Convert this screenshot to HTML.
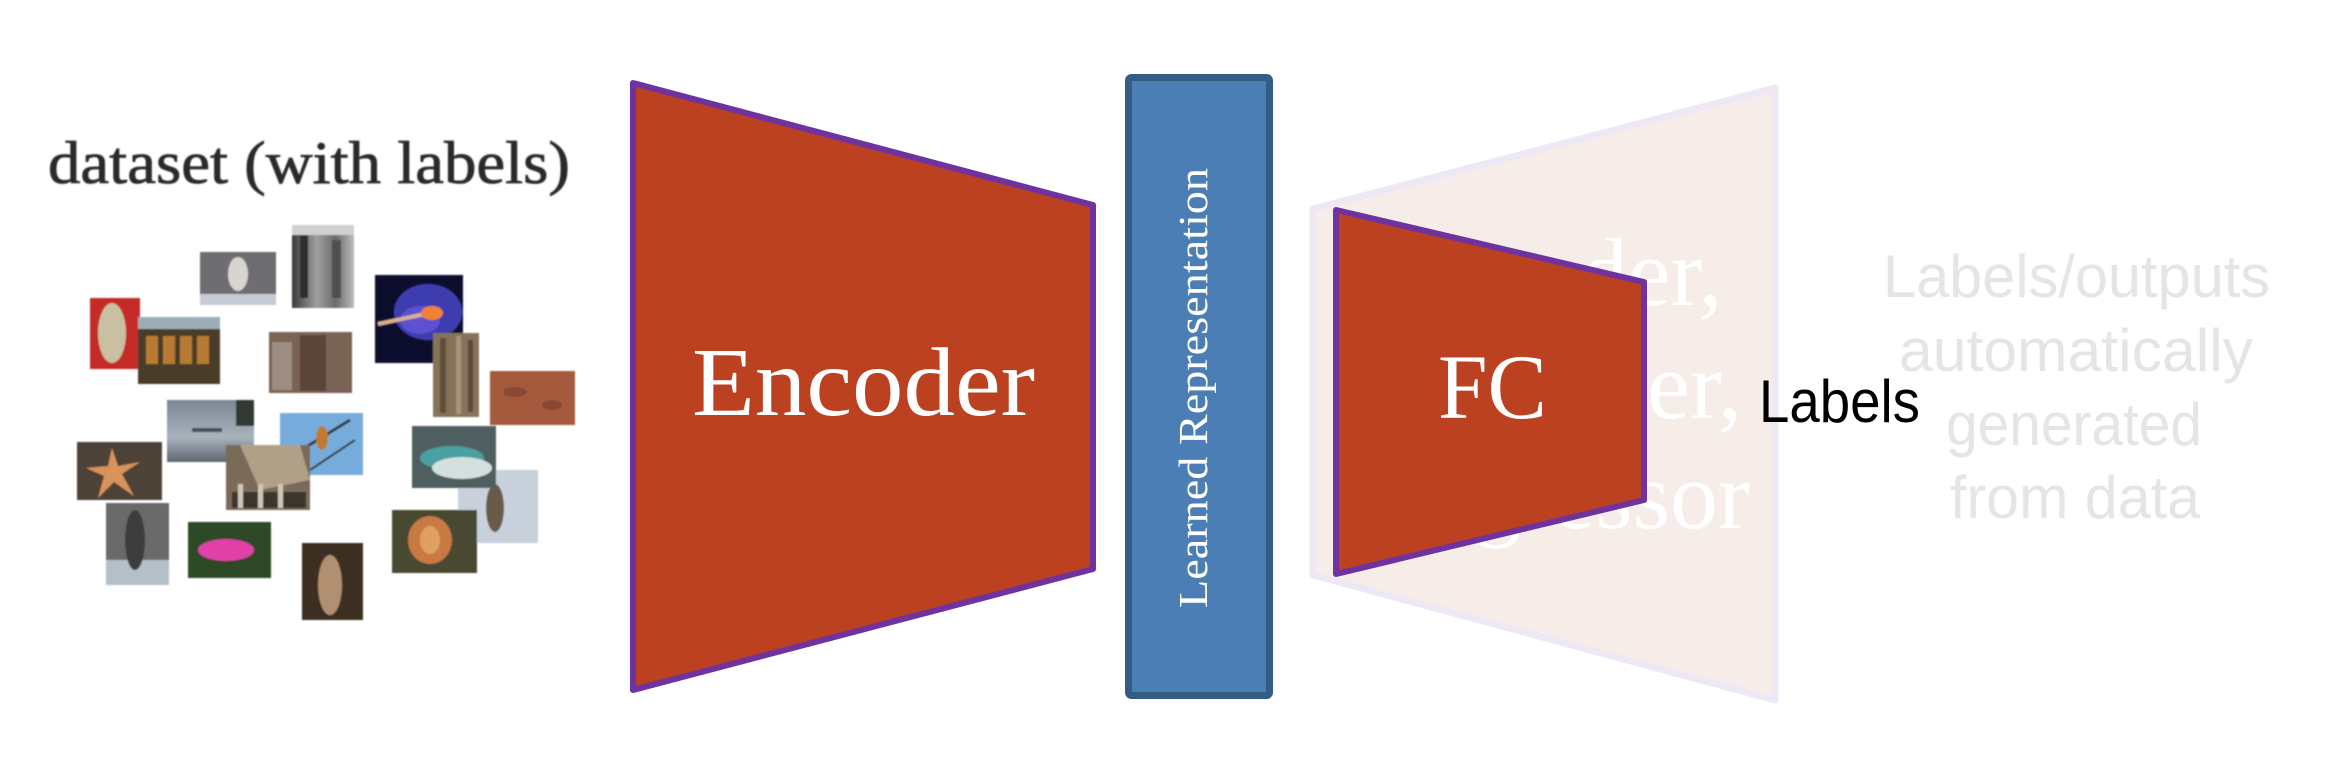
<!DOCTYPE html>
<html>
<head>
<meta charset="utf-8">
<style>
  html, body { margin:0; padding:0; background:#ffffff; }
  body { width:2336px; height:772px; overflow:hidden; }
  svg { display:block; }
</style>
</head>
<body>
<svg width="2336" height="772" viewBox="0 0 2336 772" xmlns="http://www.w3.org/2000/svg">
  <defs>
    <filter id="soft" x="-5%" y="-5%" width="110%" height="110%">
      <feGaussianBlur stdDeviation="0.9"/>
    </filter>
    <filter id="softtext" x="-2%" y="-10%" width="104%" height="120%">
      <feGaussianBlur stdDeviation="0.7"/>
    </filter>
    <linearGradient id="skyg" x1="0" y1="0" x2="0" y2="1">
      <stop offset="0" stop-color="#7a8692"/>
      <stop offset="0.6" stop-color="#a8b2bc"/>
      <stop offset="1" stop-color="#5e6670"/>
    </linearGradient>
    <linearGradient id="bwg" x1="0" y1="0" x2="1" y2="0">
      <stop offset="0" stop-color="#3a3a3a"/>
      <stop offset="0.4" stop-color="#a0a0a0"/>
      <stop offset="0.7" stop-color="#6a6a6a"/>
      <stop offset="1" stop-color="#bdbdbd"/>
    </linearGradient>
  </defs>

  <rect x="0" y="0" width="2336" height="772" fill="#ffffff"/>

  <!-- dataset title -->
  <text x="48" y="183" font-family="'Liberation Serif', serif" font-size="60" fill="#2a2a2a" stroke="#2a2a2a" stroke-width="0.8" textLength="522" lengthAdjust="spacingAndGlyphs" filter="url(#softtext)">dataset (with labels)</text>

  <!-- collage -->
  <g filter="url(#soft)">
    <rect x="200" y="252" width="76" height="53" fill="#6e6e72"/>
    <ellipse cx="238" cy="274" rx="10" ry="17" fill="#d8d4d0"/>
    <rect x="200" y="294" width="76" height="11" fill="#c6cad2"/>
    <rect x="292" y="225" width="62" height="83" fill="url(#bwg)"/>
    <rect x="300" y="232" width="8" height="66" fill="#2e2e2e"/>
    <rect x="332" y="240" width="9" height="58" fill="#505050"/>
    <rect x="292" y="225" width="62" height="10" fill="#d0d0d0"/>
    <rect x="375" y="275" width="88" height="88" fill="#0a0a2e"/>
    <ellipse cx="428" cy="312" rx="34" ry="28" fill="#4646c6" opacity="0.85"/>
    <ellipse cx="420" cy="320" rx="20" ry="14" fill="#6a5ae0" opacity="0.7"/>
    <line x1="378" y1="324" x2="425" y2="314" stroke="#d8b090" stroke-width="4"/>
    <ellipse cx="432" cy="313" rx="11" ry="7" fill="#f08030"/>
    <rect x="433" y="333" width="46" height="84" fill="#86735a"/>
    <rect x="440" y="338" width="6" height="75" fill="#5e4e3a"/>
    <rect x="456" y="336" width="5" height="78" fill="#a89478"/>
    <rect x="468" y="340" width="5" height="72" fill="#5a4a36"/>
    <rect x="90" y="298" width="50" height="71" fill="#c42a28"/>
    <ellipse cx="112" cy="333" rx="14" ry="30" fill="#c8c0a0"/>
    <rect x="138" y="317" width="82" height="67" fill="#4a3e2c"/>
    <rect x="138" y="317" width="82" height="12" fill="#9eaeb6"/>
    <rect x="146" y="336" width="12" height="28" fill="#b87a32"/>
    <rect x="163" y="336" width="12" height="28" fill="#b87a32"/>
    <rect x="180" y="336" width="12" height="28" fill="#b87a32"/>
    <rect x="197" y="336" width="12" height="28" fill="#b87a32"/>
    <rect x="269" y="332" width="83" height="61" fill="#7a6454"/>
    <rect x="300" y="335" width="26" height="56" fill="#5a4538"/>
    <rect x="272" y="342" width="20" height="48" fill="#9c8c82"/>
    <rect x="490" y="371" width="85" height="54" fill="#a65a3c"/>
    <ellipse cx="515" cy="392" rx="12" ry="5" fill="#8a4630"/>
    <ellipse cx="552" cy="405" rx="10" ry="5" fill="#8a4630"/>
    <rect x="167" y="400" width="87" height="62" fill="url(#skyg)"/>
    <rect x="236" y="400" width="18" height="26" fill="#303830"/>
    <rect x="192" y="428" width="30" height="4" fill="#48505a"/>
    <rect x="280" y="413" width="83" height="62" fill="#74acdc"/>
    <line x1="285" y1="460" x2="350" y2="420" stroke="#3a3a30" stroke-width="3"/>
    <line x1="310" y1="470" x2="355" y2="440" stroke="#3a3a30" stroke-width="2"/>
    <ellipse cx="322" cy="438" rx="6" ry="12" fill="#c07a30"/>
    <rect x="226" y="445" width="84" height="65" fill="#7a6a58"/>
    <polygon points="240,445 300,445 310,480 260,490" fill="#b0a088"/>
    <rect x="232" y="492" width="74" height="16" fill="#3a342e"/>
    <rect x="238" y="484" width="5" height="24" fill="#cfc6b8"/>
    <rect x="258" y="484" width="5" height="24" fill="#cfc6b8"/>
    <rect x="278" y="484" width="5" height="24" fill="#cfc6b8"/>
    <rect x="458" y="470" width="80" height="73" fill="#c8d0dc"/>
    <ellipse cx="495" cy="508" rx="9" ry="24" fill="#6a5a48"/>
    <rect x="412" y="426" width="84" height="62" fill="#505e5e"/>
    <ellipse cx="452" cy="458" rx="32" ry="12" fill="#4aa0a0"/>
    <ellipse cx="462" cy="468" rx="30" ry="11" fill="#d4e0e0"/>
    <rect x="392" y="510" width="85" height="63" fill="#4a4a30"/>
    <ellipse cx="430" cy="540" rx="22" ry="24" fill="#c87a42"/>
    <ellipse cx="430" cy="540" rx="10" ry="14" fill="#e0a060"/>
    <rect x="77" y="442" width="85" height="58" fill="#4e4238"/>
    <polygon points="112,448 118,466 140,462 122,474 134,496 114,482 98,498 104,476 86,468 108,466" fill="#d8925c"/>
    <rect x="106" y="503" width="63" height="82" fill="#6a6a6a"/>
    <rect x="106" y="560" width="63" height="25" fill="#b4c0c8"/>
    <ellipse cx="135" cy="540" rx="10" ry="30" fill="#3e3e3e"/>
    <rect x="188" y="522" width="83" height="56" fill="#2e4a28"/>
    <ellipse cx="226" cy="550" rx="28" ry="11" fill="#e040a8"/>
    <rect x="302" y="543" width="61" height="77" fill="#3e2e22"/>
    <ellipse cx="330" cy="585" rx="12" ry="30" fill="#b09070"/>
  </g>

  <!-- Encoder -->
  <polygon points="633,83 1093,205 1093,569 633,690" fill="#bc4120" stroke="#6e339e" stroke-width="6" stroke-linejoin="round"/>
  <text x="692" y="415" font-family="'Liberation Serif', serif" font-size="98" fill="#ffffff" textLength="343" lengthAdjust="spacingAndGlyphs">Encoder</text>

  <!-- Learned Representation bar -->
  <rect x="1128.5" y="77.5" width="141" height="618" rx="3" ry="3" fill="#4b7eb5" stroke="#355c85" stroke-width="7"/>
  <text transform="translate(1207,388) rotate(-90)" x="0" y="0" text-anchor="middle" font-family="'Liberation Serif', serif" font-size="41" fill="#ffffff" textLength="440" lengthAdjust="spacingAndGlyphs">Learned Representation</text>

  <!-- faded decoder shape -->
  <polygon points="1313,209 1775,88 1775,700 1313,575" fill="#f6ece8" stroke="#eee8f4" stroke-width="7" stroke-linejoin="round"/>
  <g font-family="'Liberation Serif', serif" font-size="96" fill="#ffffff" text-anchor="middle">
    <text x="1550" y="305">Decoder,</text>
    <text x="1548" y="418">Classifier,</text>
    <text x="1558" y="528">Regressor</text>
  </g>

  <!-- FC -->
  <polygon points="1336,210 1644,282 1644,500 1336,574" fill="#bc4120" stroke="#6e339e" stroke-width="6" stroke-linejoin="round"/>
  <text x="1438" y="418" font-family="'Liberation Serif', serif" font-size="92" fill="#ffffff" textLength="109" lengthAdjust="spacingAndGlyphs">FC</text>

  <!-- Labels -->
  <text x="1759" y="422" font-family="'Liberation Sans', sans-serif" font-size="60" fill="#000000" textLength="161" lengthAdjust="spacingAndGlyphs">Labels</text>

  <!-- faded right text -->
  <g font-family="'Liberation Sans', sans-serif" font-size="60" fill="#e5e5e5">
    <text x="1883" y="297" textLength="387" lengthAdjust="spacingAndGlyphs">Labels/outputs</text>
    <text x="1899" y="371" textLength="354" lengthAdjust="spacingAndGlyphs">automatically</text>
    <text x="1946" y="445" textLength="256" lengthAdjust="spacingAndGlyphs">generated</text>
    <text x="1950" y="518" textLength="250" lengthAdjust="spacingAndGlyphs">from data</text>
  </g>
</svg>
</body>
</html>
